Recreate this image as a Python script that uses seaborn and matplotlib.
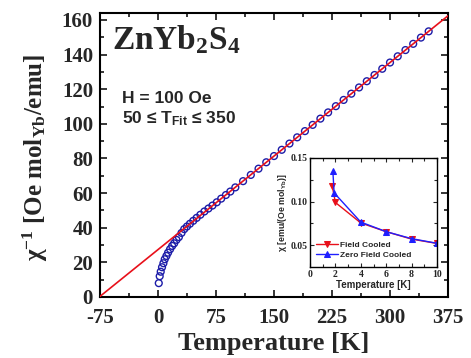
import matplotlib
matplotlib.use("Agg")
import matplotlib.pyplot as plt
import seaborn as sns
import pandas as pd

# ---- main data: inverse susceptibility ----
temp_K = [1.0, 2.2, 3.5, 5.2, 7.0, 8.7, 10.9, 13.0, 15.6, 18.3, 20.9, 23.9, 27.0,
          30.4, 33.9, 37.4, 41.3, 45.6, 50.0, 54.8, 60.0, 65.2, 70.4, 76.0, 81.7,
          87.8, 93.5, 100, 110, 120, 130, 140, 150, 160, 170, 180, 190, 200, 210,
          220, 230, 240, 250, 260, 270, 280, 290, 300, 310, 320, 330, 340, 350]
inv_chi = [8.0, 12.0, 14.6, 17.2, 19.5, 21.8, 23.7, 25.6, 27.6, 29.5, 31.0, 33.0, 34.6,
           37.0, 39.2, 40.7, 42.3, 44.0, 45.7, 47.5, 49.4, 51.1, 52.8, 54.7, 56.8,
           58.9, 60.9, 63.3, 66.9, 70.5, 74.1, 77.8, 81.4, 85.0, 88.6, 92.2, 95.8,
           99.4, 103.0, 106.6, 110.2, 113.8, 117.4, 121.0, 124.6, 128.2, 131.8, 135.4,
           139.0, 142.6, 146.2, 149.8, 153.4]

# Curie-Weiss fit line end points
fit_T = [-76, 375]
fit_inv_chi = [0.0, 162.4]

# ---- inset data: susceptibility at low T ----
fc_T = [1.75, 2.0, 4.0, 6.0, 8.0, 10.0]
fc_chi = [0.118, 0.099, 0.0755, 0.0655, 0.057, 0.052]
zfc_T = [1.8, 1.9, 4.0, 6.0, 8.0, 10.0]
zfc_chi = [0.135, 0.110, 0.0765, 0.0655, 0.0575, 0.0522]

x_ticks = [-75, 0, 75, 150, 225, 300, 375]
y_ticks = [0, 20, 40, 60, 80, 100, 120, 140, 160]

sns.set_style("ticks")
plt.rcParams["axes.unicode_minus"] = False
plt.rcParams["mathtext.fontset"] = "custom"
plt.rcParams["mathtext.rm"] = "Liberation Serif:bold"
plt.rcParams["mathtext.sf"] = "Liberation Sans:bold"
plt.rcParams["mathtext.default"] = "rm"
plt.rcParams["font.family"] = ["Liberation Serif", "DejaVu Serif"]

SERIF = "Liberation Serif"
SANS = "Liberation Sans"
RED = "#e8101a"
BLUE = "#1c1ca8"

fig = plt.figure(figsize=(4.71, 3.58), dpi=100)
ax = fig.add_axes([100 / 471, 1 - 297 / 358, 348 / 471, 284 / 358])

main_df = pd.DataFrame({"T": temp_K, "inv": inv_chi})
fit_df = pd.DataFrame({"T": fit_T, "inv": fit_inv_chi})

sns.scatterplot(data=main_df, x="T", y="inv", ax=ax, marker="o", s=24,
                facecolor="none", edgecolor=BLUE, linewidth=1.0, zorder=2)
sns.lineplot(data=fit_df, x="T", y="inv", ax=ax, color=RED, lw=1.2,
             estimator=None, sort=False, zorder=3)

ax.set_xlim(-75, 375)
ax.set_ylim(0, 164)
ax.set_xticks(x_ticks)
ax.set_yticks(y_ticks)
ax.set_xticks([t + 37.5 for t in x_ticks[:-1]], minor=True)
ax.set_yticks(list(range(10, 164, 20)), minor=True)
ax.tick_params(which="both", direction="in", top=True, right=True, width=1.3)
ax.tick_params(which="major", length=5)
ax.tick_params(which="minor", length=3)
for lab in ax.get_xticklabels() + ax.get_yticklabels():
    lab.set_fontfamily(SERIF)
    lab.set_fontweight("bold")
    lab.set_fontsize(15)
ax.tick_params(axis="x", pad=8)
ax.tick_params(axis="y", pad=5)
for sp in ax.spines.values():
    sp.set_linewidth(1.5)
    sp.set_color("black")

ax.set_xlabel("Temperature [K]", fontsize=19, fontweight="bold",
              fontfamily=SERIF, labelpad=3)
ax.set_ylabel(r"χ$^{-1}$ [Oe mol$_{Yb}$/emu]", fontsize=18, fontweight="bold",
              fontfamily=SERIF)
ax.yaxis.set_label_coords(-0.145, 0.49)

ax.text(0.035, 0.965, r"ZnYb$_{2}$S$_{4}$", transform=ax.transAxes,
        fontsize=24, fontweight="bold", fontfamily=SERIF, va="top", ha="left")
ax.text(0.063, 0.725, "H = 100 Oe", transform=ax.transAxes, fontsize=12.5,
        fontweight="bold", fontfamily=SANS, va="top", ha="left")
ax.text(0.063, 0.66, r"50 ≤ T$_{\mathsf{Fit}}$ ≤ 350", transform=ax.transAxes,
        fontsize=12.5, fontweight="bold", fontfamily=SANS, va="top", ha="left")

# ---- inset ----
ins = fig.add_axes([310 / 471, 1 - 267 / 358, 127 / 471, 109 / 358])
fc_df = pd.DataFrame({"T": fc_T, "chi": fc_chi})
zfc_df = pd.DataFrame({"T": zfc_T, "chi": zfc_chi})
sns.lineplot(data=fc_df, x="T", y="chi", ax=ins, color=RED, marker="v",
             markersize=5, markeredgecolor=RED, lw=1.0, estimator=None,
             sort=False, label="Field Cooled")
sns.lineplot(data=zfc_df, x="T", y="chi", ax=ins, color="#1f1fff", marker="^",
             markersize=5, markeredgecolor="#1f1fff", lw=1.0, estimator=None,
             sort=False, label="Zero Field Cooled")
ins.set_xlim(0, 10)
ins.set_ylim(0.025, 0.15)
ins.set_xticks([0, 2, 4, 6, 8, 10])
ins.set_xticklabels(["0", "2", "4", "6", "8", "10"])
ins.set_xticks([1, 3, 5, 7, 9], minor=True)
ins.set_yticks([0.05, 0.10, 0.15])
ins.set_yticklabels(["0.05", "0.10", "0.15"])
ins.set_yticks([0.075, 0.125], minor=True)
ins.tick_params(which="both", direction="in", top=True, right=True, width=0.8,
                pad=2)
ins.tick_params(which="major", length=3)
ins.tick_params(which="minor", length=2)
for lab in ins.get_xticklabels() + ins.get_yticklabels():
    lab.set_fontfamily(SERIF)
    lab.set_fontweight("bold")
    lab.set_fontsize(7)
for sp in ins.spines.values():
    sp.set_linewidth(1.0)
    sp.set_color("black")
ins.set_xlabel("Temperature [K]", fontsize=7, fontweight="bold",
               fontfamily=SANS, labelpad=1)
ins.set_ylabel(r"χ [emu/(Oe mol$_{\mathsf{Yb}}$)]", fontsize=6.3,
               fontweight="bold", fontfamily=SANS, labelpad=1)
leg = ins.legend(loc="lower left", bbox_to_anchor=(0.0, 0.02), frameon=False,
                 prop={"family": SANS, "weight": "bold", "size": 6},
                 handlelength=2.6, handletextpad=0.3, labelspacing=0.25,
                 borderpad=0.2)

fig.savefig("out.png", dpi=100)
